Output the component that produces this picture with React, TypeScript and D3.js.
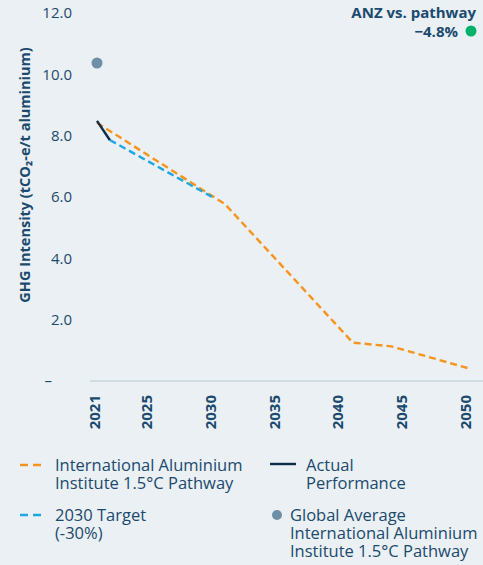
import React from "react";
import * as d3 from "d3";

// chart values
const pathwayYears = [2021, 2031, 2041, 2044, 2050];
const pathwayValues = [8.42, 5.77, 1.25, 1.13, 0.42];
const actualYears = [2021, 2022];
const actualValues = [8.48, 7.86];
const targetYears = [2022, 2030];
const targetValues = [7.86, 6.0];
const globalAvgYear = 2021;
const globalAvgValue = 10.37;
const xTicks = [2021, 2025, 2030, 2035, 2040, 2045, 2050];
const yTicks = [0, 2, 4, 6, 8, 10, 12];

const W = 483;
const H = 565;
const FONT = "'Open Sans', sans-serif";
const NAVY = "#1b4a6e";
const ORANGE = "#f7941d";
const BLUE = "#1ea7e1";
const DARK = "#0d2b4a";
const GREY = "#6f8fa6";
const GREEN = "#00b26b";

// multi-line label as one text element
const Label = ({ x, y, lines }: { x: number; y: number; lines: string[] }) => (
  <text x={x} y={y}>
    {lines.map((l, i) => (
      <tspan key={i} x={x} dy={i === 0 ? 0 : 18}>
        {l}
      </tspan>
    ))}
  </text>
);

const App = () => {
  const x = d3.scaleLinear().domain([2021, 2050]).range([97, 468]);
  const y = d3.scaleLinear().domain([0, 12]).range([381, 13]);

  const line = d3
    .line<[number, number]>()
    .x((d) => x(d[0]))
    .y((d) => y(d[1]));

  const pathway = pathwayYears.map((yr, i) => [yr, pathwayValues[i]] as [number, number]);
  const actual = actualYears.map((yr, i) => [yr, actualValues[i]] as [number, number]);
  const target = targetYears.map((yr, i) => [yr, targetValues[i]] as [number, number]);

  return (
    <svg
      width={W}
      height={H}
      style={{ position: "absolute", left: 0, top: 0, fontFamily: FONT }}
    >
      <rect width={W} height={H} fill="#eaf0f3" />

      {/* y axis labels */}
      {yTicks.map((t) => (
        <text
          key={t}
          x={t === 0 ? 52 : 72}
          y={y(t)}
          dy="0.35em"
          textAnchor="end"
          fontSize={15}
          fill={NAVY}
        >
          {t === 0 ? "–" : d3.format(".1f")(t)}
        </text>
      ))}
      <text
        transform={`translate(30,${175}) rotate(-90)`}
        textAnchor="middle"
        fontSize={14.5}
        fontWeight={700}
        fill={NAVY}
      >
        GHG Intensity (tCO₂-e/t aluminium)
      </text>

      {/* x axis */}
      <line x1={90} x2={W} y1={y(0)} y2={y(0)} stroke="#b7c9d3" strokeWidth={1.2} />
      {xTicks.map((t) => (
        <text
          key={t}
          transform={`translate(${x(t) - 2},395) rotate(-90)`}
          dy="0.36em"
          textAnchor="end"
          fontSize={15}
          fontWeight={700}
          fill={NAVY}
        >
          {t}
        </text>
      ))}

      {/* series */}
      <path d={line(pathway) ?? ""} fill="none" stroke={ORANGE} strokeWidth={2.4} strokeDasharray="7,4" />
      <path d={line(target) ?? ""} fill="none" stroke={BLUE} strokeWidth={2.4} strokeDasharray="7,4" />
      <path d={line(actual) ?? ""} fill="none" stroke={DARK} strokeWidth={2.4} />
      <circle cx={x(globalAvgYear)} cy={y(globalAvgValue)} r={5.5} fill={GREY} />

      {/* headline */}
      <text x={476} y={18} textAnchor="end" fontSize={15} fontWeight={700} fill={NAVY}>
        ANZ vs. pathway
      </text>
      <text x={458} y={37} textAnchor="end" fontSize={15} fontWeight={700} fill={NAVY}>
        −4.8%
      </text>
      <circle cx={471} cy={31} r={5.5} fill={GREEN} />

      {/* legend */}
      <g fontSize={16.5} fill={NAVY}>
        <line x1={20} x2={46} y1={465} y2={465} stroke={ORANGE} strokeWidth={2.4} strokeDasharray="8,5" />
        <Label x={55} y={471} lines={["International Aluminium", "Institute 1.5°C Pathway"]} />

        <line x1={270} x2={296} y1={464} y2={464} stroke={DARK} strokeWidth={2.4} />
        <Label x={306} y={471} lines={["Actual", "Performance"]} />

        <line x1={20} x2={46} y1={515} y2={515} stroke={BLUE} strokeWidth={2.4} strokeDasharray="8,5" />
        <Label x={55} y={521} lines={["2030 Target", "(-30%)"]} />

        <circle cx={277} cy={515} r={5} fill={GREY} />
        <Label x={290} y={521} lines={["Global Average", "International Aluminium", "Institute 1.5°C Pathway"]} />
      </g>
    </svg>
  );
};

export default App;
